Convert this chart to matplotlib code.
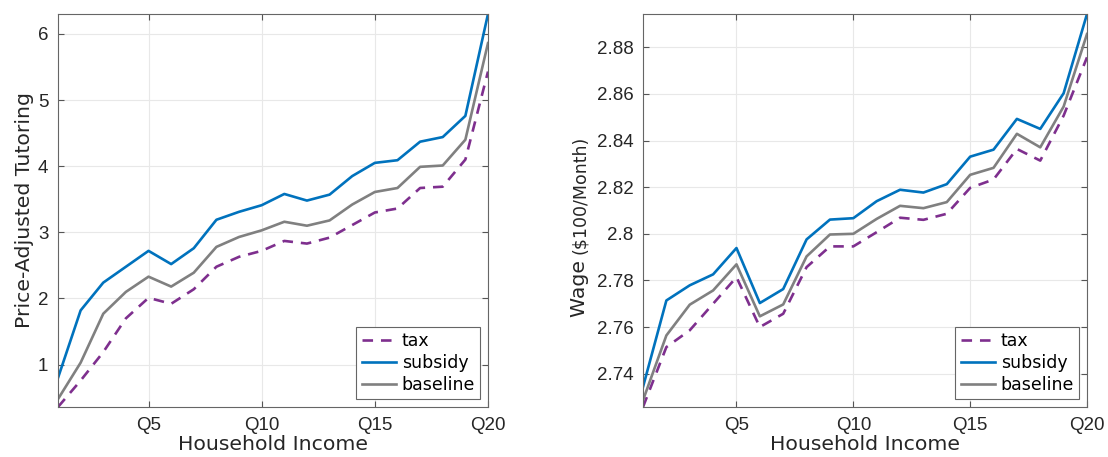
import matplotlib
matplotlib.use("Agg")
import matplotlib.pyplot as plt
import numpy as np

plt.rcParams['font.family'] = ['DejaVu Sans']

# Income ventiles
quantiles = np.arange(1, 21)
tick_pos = [5, 10, 15, 20]
tick_labels = ["Q5", "Q10", "Q15", "Q20"]

# Price-adjusted tutoring by scenario
tutor_tax = [0.36, 0.76, 1.19, 1.70, 2.01, 1.92, 2.14, 2.48, 2.63, 2.72,
             2.87, 2.83, 2.92, 3.11, 3.30, 3.36, 3.67, 3.69, 4.10, 5.43]
tutor_subsidy = [0.80, 1.82, 2.24, 2.48, 2.72, 2.52, 2.76, 3.19, 3.31, 3.41,
                 3.58, 3.48, 3.57, 3.85, 4.05, 4.09, 4.37, 4.44, 4.76, 6.30]
tutor_baseline = [0.48, 1.03, 1.77, 2.10, 2.33, 2.18, 2.39, 2.78, 2.93, 3.03,
                  3.16, 3.10, 3.18, 3.42, 3.61, 3.67, 3.99, 4.01, 4.40, 5.86]

# Wage ($100/month) by scenario
wage_tax = [2.7257, 2.7514, 2.7586, 2.7700, 2.7814, 2.7600, 2.7657, 2.7857, 2.7946, 2.7946,
            2.8007, 2.8069, 2.8060, 2.8086, 2.8197, 2.8233, 2.8364, 2.8314, 2.8507, 2.8757]
wage_subsidy = [2.7343, 2.7714, 2.7779, 2.7826, 2.7939, 2.7703, 2.7763, 2.7976, 2.8061, 2.8067,
                2.8140, 2.8189, 2.8177, 2.8213, 2.8331, 2.8361, 2.8493, 2.8450, 2.8603, 2.8943]
wage_baseline = [2.7286, 2.7564, 2.7696, 2.7757, 2.7869, 2.7646, 2.7697, 2.7903, 2.7997, 2.8000,
                 2.8064, 2.8120, 2.8110, 2.8136, 2.8253, 2.8283, 2.8429, 2.8371, 2.8546, 2.8857]

c_tax = '#7E2F8E'
c_sub = '#0072BD'
c_base = '#808080'
txt = '#262626'


def draw(ax, tax, sub, base, yticks, yticklabels):
    ax.plot(quantiles, tax, '--', color=c_tax, lw=1.9, dashes=(4, 3), label='tax')
    ax.plot(quantiles, sub, '-', color=c_sub, lw=1.9, label='subsidy')
    ax.plot(quantiles, base, '-', color=c_base, lw=1.9, label='baseline')
    ax.set_xlim(1, 20)
    ax.set_ylim(min(tax + sub + base), max(tax + sub + base))
    ax.set_xticks(tick_pos)
    ax.set_xticklabels(tick_labels)
    ax.set_yticks(yticks)
    ax.set_yticklabels(yticklabels)
    for lab in ax.get_xticklabels() + ax.get_yticklabels():
        lab.set_family('Liberation Sans')
    ax.grid(True, color='#e8e8e8', lw=0.8)
    ax.set_axisbelow(True)
    ax.tick_params(direction='in', length=4, width=0.8, color='#555555',
                   top=True, right=True, labelsize=13.5, labelcolor=txt, pad=7)
    for s in ax.spines.values():
        s.set_color('#666666')
        s.set_linewidth(0.8)
    ax.set_xlabel('Household Income', fontsize=14.7, color=txt, labelpad=1)
    leg = ax.legend(loc='lower right', fontsize=12.5, fancybox=False, framealpha=1,
                    edgecolor='#666666', borderpad=0.3, labelspacing=0.22,
                    handlelength=2.0, handletextpad=0.3, borderaxespad=0.45)
    leg.get_frame().set_linewidth(0.8)


fig = plt.figure(figsize=(11.08, 4.57), dpi=100)
ax1 = fig.add_axes([58 / 1108, 50 / 457, 430 / 1108, 393 / 457])
ax2 = fig.add_axes([643 / 1108, 50 / 457, 444 / 1108, 393 / 457])

draw(ax1, tutor_tax, tutor_subsidy, tutor_baseline,
     [1, 2, 3, 4, 5, 6], ['1', '2', '3', '4', '5', '6'])
ax1.set_ylabel('Price-Adjusted Tutoring', fontsize=14.7, color=txt, labelpad=3)

w_ticks = [2.74, 2.76, 2.78, 2.80, 2.82, 2.84, 2.86, 2.88]
draw(ax2, wage_tax, wage_subsidy, wage_baseline,
     w_ticks, ['2.74', '2.76', '2.78', '2.8', '2.82', '2.84', '2.86', '2.88'])

# y label with a smaller unit part
t1 = ax2.text(-0.142, 0.229, 'Wage ', transform=ax2.transAxes, rotation=90,
              ha='center', va='bottom', fontsize=14.7, color=txt)
ax2.annotate(r'(\$100/Month)', xy=(0.5, 1.0), xycoords=t1, rotation=90,
             ha='center', va='bottom', fontsize=12.5, color=txt)

fig.savefig('out.png', dpi=100)
